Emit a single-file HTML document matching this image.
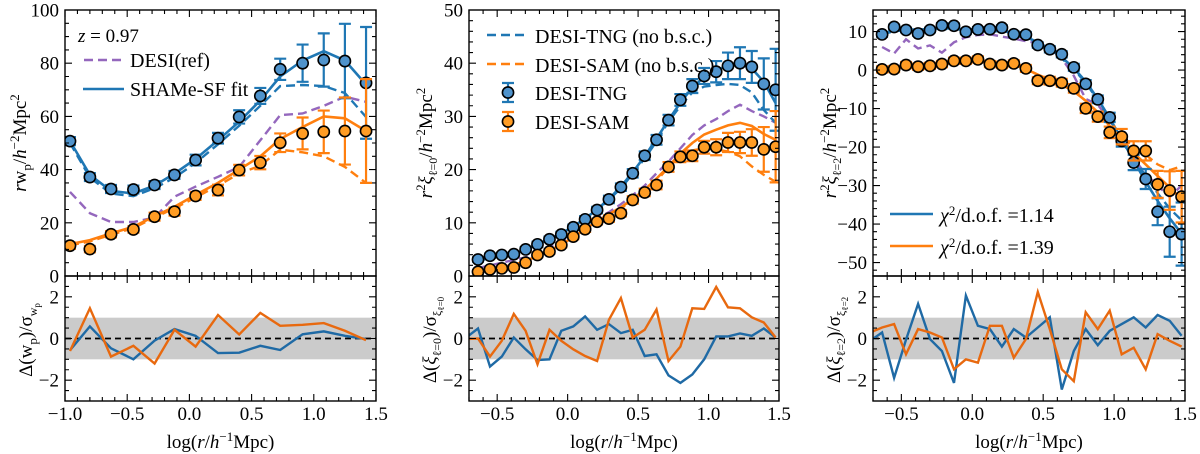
<!DOCTYPE html>
<html><head><meta charset="utf-8">
<style>
html,body{margin:0;padding:0;background:#fff;}
svg{display:block;font-family:"Liberation Serif","DejaVu Serif",serif;}
svg text, svg tspan{font-family:"Liberation Serif","DejaVu Serif",serif;}
</style></head>
<body>
<svg id="fig" width="1200" height="454" viewBox="0 0 1200 454" font-family="Liberation Serif, serif"></svg>
<script>
// ---------- data ----------
const x1 = [-0.96,-0.80,-0.63,-0.45,-0.28,-0.12,0.05,0.23,0.40,0.57,0.73,0.91,1.08,1.25,1.42];
const p1BlueObs = [50.7,37.2,32.7,32.5,34.2,38.0,43.6,51.8,59.8,67.7,77.7,80.0,81.2,80.8,72.6];
const p1BlueErr = [1.5,1.5,1.5,1.5,1.5,1.5,2,2,2.5,3,4,7,10,14,21];
const p1BlueFit = [50.7,38.0,32.0,31.0,34.0,38.5,44.0,51.0,58.0,66.0,75.0,81.0,84.5,81.0,72.0];
const p1BlueNoBsc = [50.0,37.0,31.0,30.0,33.0,37.0,42.5,49.5,56.5,64.0,71.4,71.8,71.4,68.8,59.8];
const p1OrangeObs = [11.4,10.1,15.7,17.5,22.3,24.2,30.1,32.3,39.8,42.6,50.1,53.6,54.2,54.5,54.5];
const p1OrangeErr = [1.2,1.2,1.2,1.2,1.5,1.5,1.5,2,2,2.5,3.5,6,8,12.6,19.5];
const p1OrangeFit = [12.0,13.5,16.0,18.5,22.5,26.0,30.5,35.0,40.0,45.0,51.5,56.0,60.0,59.3,54.5];
const p1OrangeNoBsc = [11.5,13.0,15.5,18.0,22.0,25.5,29.5,34.0,38.5,41.5,47.5,46.5,45.0,41.0,35.0];
const p1Ref = [31.6,23.6,20.3,20.3,22.0,29.8,33.6,37.3,41.0,51.0,60.5,61.1,64.0,67.4,65.5];
const p1ResBlue = [-0.56,0.58,-0.47,-1.0,-0.1,0.45,0.13,-0.7,-0.68,-0.35,-0.55,0.2,0.34,0.13,-0.03];
const p1ResOrange = [-0.6,1.45,-0.87,-0.35,-1.2,0.42,-0.39,1.13,0.19,1.23,0.61,0.66,0.74,0.37,-0.08];

const x2 = [-0.636,-0.551,-0.467,-0.382,-0.298,-0.214,-0.129,-0.045,0.040,0.124,0.209,0.293,0.378,0.462,0.547,0.631,0.716,0.800,0.885,0.969,1.054,1.138,1.223,1.307,1.392,1.476];
const x2Res = [-0.72,-0.636,-0.551,-0.467,-0.382,-0.298,-0.214,-0.129,-0.045,0.040,0.124,0.209,0.293,0.378,0.462,0.547,0.631,0.716,0.800,0.885,0.969,1.054,1.138,1.223,1.307,1.392,1.476];
const p2BlueObs = [3.1,3.8,3.95,4.1,5.0,5.95,6.9,7.8,9.15,10.65,12.4,14.4,16.7,19.3,22.6,25.6,29.3,33.1,35.7,37.6,38.4,39.5,40.0,39.3,36.1,35.0];
const p2BlueErr = [0.4,0.4,0.4,0.4,0.4,0.5,0.5,0.5,0.5,0.6,0.6,0.7,0.7,0.8,0.8,0.9,1.0,1.1,1.3,1.5,2.0,2.5,3.0,3.0,4.8,7.7];
const p2BlueFit = [2.9,3.5,3.9,4.2,5.0,6.0,7.0,8.0,9.3,10.8,12.5,14.5,16.8,19.5,22.5,25.8,29.3,32.6,35.4,37.4,38.6,39.6,39.8,39.0,36.5,32.5];
const p2BlueNoBsc = [2.8,3.4,3.8,4.1,4.9,5.9,6.9,7.9,9.2,10.6,12.3,14.3,16.5,19.2,22.1,25.3,29.0,32.0,34.5,35.6,35.9,36.1,35.9,34.5,31.2,28.8];
const p2OrangeObs = [0.8,1.25,1.43,1.6,2.5,3.95,4.6,5.8,7.4,8.8,10.2,10.8,11.8,14.3,15.7,17.1,20.5,22.4,22.6,24.2,24.2,25.1,25.1,25.1,23.8,24.3];
const p2OrangeErr = [0.3,0.3,0.3,0.3,0.3,0.4,0.4,0.4,0.5,0.5,0.5,0.6,0.6,0.7,0.7,0.8,0.9,1.0,1.0,1.2,1.5,1.8,2.0,2.5,4.2,6.7];
const p2OrangeFit = [1.0,1.4,1.7,2.1,2.8,3.8,4.8,5.9,7.3,8.8,10.3,11.6,12.9,14.5,16.2,18.3,20.6,23.0,25.0,26.6,27.5,28.3,28.8,28.2,26.7,25.6];
const p2OrangeNoBsc = [0.9,1.3,1.6,2.0,2.7,3.7,4.7,5.8,7.2,8.7,10.1,11.4,12.7,14.2,15.9,17.8,20.5,22.5,23.6,24.0,23.8,23.4,22.5,20.6,19.0,17.7];
const p2Ref = [1.5,2.0,2.5,3.0,3.5,4.5,5.5,6.5,7.8,9.3,10.8,12.0,13.5,15.2,17.0,19.3,21.5,24.0,26.5,28.3,29.5,31.0,32.2,31.0,30.0,28.8];
const p2ResBlue = [0.05,0.48,-1.35,-0.87,0.05,-0.52,-1.03,-1.0,0.37,0.58,1.06,0.42,0.69,0.26,0.42,-0.84,-0.76,-1.77,-2.13,-1.73,-1.0,0.1,0.1,0.24,0.13,0.48,0.05];
const p2ResOrange = [-0.03,0.0,-0.87,-0.11,1.18,0.37,-1.24,0.42,-0.11,-0.52,-0.84,-1.08,0.9,1.94,0.05,0.42,1.39,-1.08,-0.39,1.45,1.42,2.47,1.5,1.45,1.02,0.77,0.05];

const p3BlueObs = [9.26,11.2,10.4,9.5,10.4,11.6,11.5,9.95,10.55,10.6,11.0,9.3,9.2,6.5,5.4,4.1,0.7,-3.6,-7.6,-12.3,-18.4,-24.0,-28.3,-36.8,-42.0,-42.6];
const p3BlueErr = [0.6,0.6,0.6,0.6,0.6,0.6,0.6,0.6,0.6,0.6,0.6,0.7,0.7,0.7,0.8,0.8,0.9,1.0,1.0,1.2,1.5,2.0,2.6,3.5,6.5,8.2];
const p3BlueFit = [9.5,10.3,10.5,10.5,10.6,10.8,10.8,10.6,10.5,10.4,10.2,9.6,8.6,7.2,5.5,3.3,0.5,-3.0,-7.5,-12.5,-18.0,-23.5,-29.0,-34.0,-38.5,-42.5];
const p3BlueNoBsc = [9.3,10.1,10.3,10.3,10.4,10.6,10.6,10.4,10.3,10.2,10.0,9.4,8.4,7.0,5.3,3.0,0.2,-3.3,-7.8,-12.8,-18.3,-23.0,-27.5,-32.0,-36.0,-39.0];
const p3OrangeObs = [0.17,0.26,1.3,0.87,1.1,1.56,2.4,2.4,2.77,1.56,1.3,1.73,0.43,-2.77,-2.77,-3.3,-4.76,-9.95,-12.1,-16.2,-17.3,-21.0,-21.0,-29.7,-31.3,-32.9];
const p3OrangeErr = [0.8,0.8,0.8,0.8,0.8,0.8,0.8,0.8,0.8,0.8,0.8,0.8,0.9,0.9,1.0,1.0,1.1,1.2,1.3,1.5,2.0,2.5,2.5,3.5,5.0,6.7];
const p3OrangeFit = [0.3,0.6,0.9,1.1,1.4,1.8,2.2,2.4,2.5,2.3,1.9,1.3,0.3,-1.2,-2.5,-3.8,-5.5,-8.0,-11.0,-14.5,-18.0,-21.5,-24.5,-27.5,-30.5,-33.5];
const p3OrangeNoBsc = [0.3,0.6,0.9,1.1,1.4,1.8,2.2,2.4,2.5,2.3,1.9,1.3,0.3,-1.2,-2.5,-3.8,-5.5,-8.0,-11.0,-14.5,-17.5,-20.0,-22.0,-24.5,-26.0,-25.0];
const p3Ref = [6.0,4.3,8.0,5.6,6.4,4.5,7.2,8.5,9.1,9.3,8.7,8.2,7.5,7.0,5.6,3.0,-1.5,-7.5,-9.0,-13.0,-18.5,-23.0,-27.0,-30.0,-33.0,-30.0];
const p3ResBlue = [-0.11,0.29,-1.89,-0.06,1.66,-0.03,-0.6,-2.13,2.06,0.61,0.45,-0.39,0.45,0.05,0.53,1.02,-2.45,-0.6,0.45,-0.32,0.37,0.69,1.02,0.53,1.13,0.85,0.13];
const p3ResOrange = [0.29,0.53,0.69,-0.76,0.45,0.29,0.05,-1.48,-1.0,-1.16,0.61,0.61,-0.92,-0.03,2.23,0.45,-1.48,-2.05,1.26,0.45,1.34,-0.76,-0.44,-1.48,0.21,-0.11,-0.39];

const xTicks = [-1.0,-0.5,0.0,0.5,1.0,1.5];
const xTickLabels = ['−1.0','−0.5','0.0','0.5','1.0','1.5'];
const yTicks1 = [0,20,40,60,80,100];
const yTicks2 = [0,10,20,30,40,50];
const yTicks3 = [10,0,-10,-20,-30,-40,-50];
const resTicks = [2,0,-2];

// ---------- drawing ----------
const NS = 'http://www.w3.org/2000/svg';
const svg = document.getElementById('fig');
const FONT = '"Liberation Serif", "DejaVu Serif", serif';
const BLUE = '#1f77b4', ORANGE = '#ff7f0e', PURPLE = '#9467bd';
const BLUE_D = '#1f6aa5', ORANGE_D = '#e8690f';
function mk(tag, attrs, parent) {
  const e = document.createElementNS(NS, tag);
  for (const k in attrs) e.setAttribute(k, attrs[k]);
  if (tag === 'text') e.setAttribute('font-family', FONT);
  (parent || svg).appendChild(e);
  return e;
}
const TOP = 10, MID = 276, BOT = 401;
const panels = [
  {px0:65, px1:376, xmin:-1.0, xmax:1.5, ymin:0, ymax:100, yt:yTicks1, ym:5},
  {px0:469, px1:779, xmin:-0.7, xmax:1.5, ymin:0, ymax:50, yt:yTicks2, ym:2},
  {px0:873, px1:1185, xmin:-0.7, xmax:1.5, ymin:-53.5, ymax:15.6, yt:yTicks3, ym:2}
];
function sx(p, v) { return p.px0 + (v - p.xmin) / (p.xmax - p.xmin) * (p.px1 - p.px0); }
function syU(p, v) { return MID - (v - p.ymin) / (p.ymax - p.ymin) * (MID - TOP); }
function syL(v) { return BOT - (v + 3) / 6 * (BOT - MID); }

function clip(p, id, y0, y1) {
  const defs = mk('defs', {});
  const cp = mk('clipPath', {id: id}, defs);
  mk('rect', {x: p.px0, y: y0, width: p.px1 - p.px0, height: y1 - y0}, cp);
}

function line(p, xs, ys, color, dash, width, upper, cid, name) {
  let d = '';
  for (let i = 0; i < xs.length; i++) {
    const X = sx(p, xs[i]), Y = upper ? syU(p, ys[i]) : syL(ys[i]);
    d += (i ? 'L' : 'M') + X.toFixed(1) + ' ' + Y.toFixed(1);
  }
  const el = mk('path', {d: d, fill: 'none', stroke: color, 'stroke-width': width, 'stroke-dasharray': dash || 'none', 'clip-path': 'url(#' + cid + ')', 'stroke-linejoin': 'miter'});
  
  
}

function points(p, xs, ys, es, color, fill, cid, name) {
  const g = mk('g', {'clip-path': 'url(#' + cid + ')'});
  
  
  for (let i = 0; i < xs.length; i++) {
    const X = sx(p, xs[i]), Y0 = syU(p, ys[i] - es[i]), Y1 = syU(p, ys[i] + es[i]);
    const eb = mk('path', {d: 'M' + X + ' ' + Y0 + 'V' + Y1 + 'M' + (X - 6) + ' ' + Y0 + 'H' + (X + 6) + 'M' + (X - 6) + ' ' + Y1 + 'H' + (X + 6), stroke: color, 'stroke-width': 2.2, fill: 'none'}, g);
    
    
  }
  for (let i = 0; i < xs.length; i++) {
    const c = mk('circle', {cx: sx(p, xs[i]), cy: syU(p, ys[i]), r: 5.6, fill: fill, stroke: '#000', 'stroke-width': 1.6}, g);
    
    
  }
}

function frame(p, idx) {
  const band = mk('rect', {x: p.px0, y: syL(1), width: p.px1 - p.px0, height: syL(-1) - syL(1), fill: '#cbcbcb'});
  
  
}
function axes(p, idx) {
  const g = mk('g', {});
  
  
  mk('rect', {x: p.px0, y: TOP, width: p.px1 - p.px0, height: MID - TOP, fill: 'none', stroke: '#000', 'stroke-width': 1.4}, g);
  mk('rect', {x: p.px0, y: MID, width: p.px1 - p.px0, height: BOT - MID, fill: 'none', stroke: '#000', 'stroke-width': 1.4}, g);
  let d = '';
  for (let v = -1.0; v <= 1.5001; v += 0.1) {
    const vv = Math.round(v * 10) / 10;
    if (vv < p.xmin - 1e-6) continue;
    const X = sx(p, vv);
    const major = Math.abs(vv * 2 - Math.round(vv * 2)) < 1e-6;
    const L = major ? 7 : 4;
    d += 'M' + X + ' ' + MID + 'v-' + L + 'M' + X + ' ' + TOP + 'v' + L;
    d += 'M' + X + ' ' + BOT + 'v-' + L + 'M' + X + ' ' + MID + 'v' + L;
  }
  for (let v = Math.ceil(p.ymin / p.ym) * p.ym; v <= p.ymax + 1e-6; v += p.ym) {
    const Y = syU(p, v);
    const major = p.yt.indexOf(Math.round(v)) >= 0;
    const L = major ? 7 : 4;
    d += 'M' + p.px0 + ' ' + Y + 'h' + L + 'M' + p.px1 + ' ' + Y + 'h-' + L;
  }
  for (let v = -3; v <= 3.001; v += 0.5) {
    const Y = syL(v);
    const major = Math.abs(v % 2) < 1e-6;
    const L = major ? 7 : 4;
    d += 'M' + p.px0 + ' ' + Y + 'h' + L + 'M' + p.px1 + ' ' + Y + 'h-' + L;
  }
  mk('path', {d: d, stroke: '#000', 'stroke-width': 1.1, fill: 'none'}, g);
  for (let i = 0; i < xTicks.length; i++) {
    if (xTicks[i] < p.xmin - 1e-6) continue;
    const t = mk('text', {x: sx(p, xTicks[i]), y: 420, 'text-anchor': 'middle', 'font-size': 19}, g);
    t.textContent = xTickLabels[i];
    
    
  }
  for (const v of p.yt) {
    const t = mk('text', {x: p.px0 - 6, y: syU(p, v) + 6.5, 'text-anchor': 'end', 'font-size': 19}, g);
    t.textContent = v < 0 ? '−' + Math.abs(v) : String(v);
    
    
  }
  for (const v of resTicks) {
    const t = mk('text', {x: p.px0 - 6, y: syL(v) + 6.5, 'text-anchor': 'end', 'font-size': 19}, g);
    t.textContent = v < 0 ? '−' + Math.abs(v) : String(v);
    
    
  }
  const xl = mk('text', {x: (p.px0 + p.px1) / 2, y: 448, 'text-anchor': 'middle', 'font-size': 19}, g);
  xl.innerHTML = 'log(<tspan font-style="italic">r</tspan>/<tspan font-style="italic">h</tspan><tspan dy="-7" font-size="13">−1</tspan><tspan dy="7">Mpc)</tspan>';
  
  
}

const sets = [
  {x: x1, xr: x1, bo: p1BlueObs, be: p1BlueErr, bf: p1BlueFit, bn: p1BlueNoBsc, oo: p1OrangeObs, oe: p1OrangeErr, of: p1OrangeFit, on: p1OrangeNoBsc, ref: p1Ref, rb: p1ResBlue, ro: p1ResOrange},
  {x: x2, xr: x2Res, bo: p2BlueObs, be: p2BlueErr, bf: p2BlueFit, bn: p2BlueNoBsc, oo: p2OrangeObs, oe: p2OrangeErr, of: p2OrangeFit, on: p2OrangeNoBsc, ref: p2Ref, rb: p2ResBlue, ro: p2ResOrange},
  {x: x2, xr: x2Res, bo: p3BlueObs, be: p3BlueErr, bf: p3BlueFit, bn: p3BlueNoBsc, oo: p3OrangeObs, oe: p3OrangeErr, of: p3OrangeFit, on: p3OrangeNoBsc, ref: p3Ref, rb: p3ResBlue, ro: p3ResOrange}
];

panels.forEach((p, i) => {
  const s = sets[i];
  const cu = 'cu' + i, cl = 'cl' + i;
  clip(p, cu, TOP, MID);
  clip(p, cl, MID, BOT);
  frame(p, i);
  line(p, [p.xmin, p.xmax], [0, 0], '#000', '6,4', 1.8, false, cl, 'zero-line');
  line(p, s.xr, s.rb, BLUE_D, null, 2.4, false, cl, 'residual-blue');
  line(p, s.xr, s.ro, ORANGE_D, null, 2.4, false, cl, 'residual-orange');
  line(p, s.x, s.ref, PURPLE, '9,5', 2.4, true, cu, 'ref-dashed-line');
  line(p, s.x, s.bn, BLUE, '9,5', 2.4, true, cu, 'blue-no-bsc-line');
  line(p, s.x, s.on, ORANGE, '9,5', 2.4, true, cu, 'orange-no-bsc-line');
  line(p, s.x, s.bf, BLUE, null, 2.6, true, cu, 'blue-fit-line');
  line(p, s.x, s.of, ORANGE, null, 2.6, true, cu, 'orange-fit-line');
  points(p, s.x, s.bo, s.be, BLUE, '#4f93cc', cu, 'blue-data-points');
  points(p, s.x, s.oo, s.oe, ORANGE, '#ff9c24', cu, 'orange-data-points');
  axes(p, i);
});
</script>
<script>
(function(){
  const NS = 'http://www.w3.org/2000/svg';
  const svg = document.getElementById('fig');
  const FONT = '"Liberation Serif", "DejaVu Serif", serif';
  function t(x, y, html, name) {
    const e = document.createElementNS(NS, 'text');
    e.setAttribute('transform', 'translate(' + x + ',' + y + ') rotate(-90)');
    e.setAttribute('text-anchor', 'middle');
    e.setAttribute('font-size', '19');
    e.setAttribute('font-family', FONT);
    e.innerHTML = html;
    svg.appendChild(e);
    
    
  }
  const unit = '/<tspan font-style="italic">h</tspan><tspan dy="-7" font-size="13">−2</tspan><tspan dy="7">Mpc</tspan><tspan dy="-7" font-size="13">2</tspan>';
  t(26, 143, '<tspan font-style="italic">r</tspan>w<tspan dy="5" font-size="13">p</tspan><tspan dy="-5">/</tspan><tspan font-style="italic">h</tspan><tspan dy="-7" font-size="13">−2</tspan><tspan dy="7">Mpc</tspan><tspan dy="-7" font-size="13">2</tspan>', 'y-axis-title-wp');
  t(432, 143, '<tspan font-style="italic">r</tspan><tspan dy="-7" font-size="13">2</tspan><tspan dy="7" font-style="italic">ξ</tspan><tspan dy="5" font-size="12">ℓ=0</tspan><tspan dy="-5">/</tspan><tspan font-style="italic">h</tspan><tspan dy="-7" font-size="13">−2</tspan><tspan dy="7">Mpc</tspan><tspan dy="-7" font-size="13">2</tspan>', 'y-axis-title-xi0');
  t(836, 143, '<tspan font-style="italic">r</tspan><tspan dy="-7" font-size="13">2</tspan><tspan dy="7" font-style="italic">ξ</tspan><tspan dy="5" font-size="12">ℓ=2</tspan><tspan dy="-5">/</tspan><tspan font-style="italic">h</tspan><tspan dy="-7" font-size="13">−2</tspan><tspan dy="7">Mpc</tspan><tspan dy="-7" font-size="13">2</tspan>', 'y-axis-title-xi2');
  t(32, 340, 'Δ(w<tspan dy="5" font-size="13">p</tspan><tspan dy="-5">)/σ</tspan><tspan dy="5" font-size="12">w</tspan><tspan dy="3" font-size="9">p</tspan>', 'residual-title-wp');
  t(436, 340, 'Δ(<tspan font-style="italic">ξ</tspan><tspan dy="5" font-size="12">ℓ=0</tspan><tspan dy="-5">)/σ</tspan><tspan dy="5" font-size="12">ξ</tspan><tspan dy="3" font-size="9">ℓ=0</tspan>', 'residual-title-xi0');
  t(840, 340, 'Δ(<tspan font-style="italic">ξ</tspan><tspan dy="5" font-size="12">ℓ=2</tspan><tspan dy="-5">)/σ</tspan><tspan dy="5" font-size="12">ξ</tspan><tspan dy="3" font-size="9">ℓ=2</tspan>', 'residual-title-xi2');

  function L(html, name) {
    const g = document.createElementNS(NS, 'g');
    g.setAttribute('font-family', FONT);
    g.innerHTML = html;
    svg.appendChild(g);
    
    
  }
  L('<text x="78" y="42" font-size="19"><tspan font-style="italic">z</tspan> = 0.97</text>' +
    '<line x1="84" y1="60" x2="123" y2="60" stroke="#9467bd" stroke-width="2.4" stroke-dasharray="9,5"/>' +
    '<text x="130" y="67" font-size="20">DESI(ref)</text>' +
    '<line x1="83" y1="89" x2="124" y2="89" stroke="#1f77b4" stroke-width="2.6"/>' +
    '<text x="130" y="96" font-size="20">SHAMe-SF fit</text>', 'legend-panel-1');
  L('<line x1="487" y1="35" x2="528" y2="35" stroke="#1f77b4" stroke-width="2.4" stroke-dasharray="9,5"/>' +
    '<text x="535" y="43" font-size="20">DESI-TNG (no b.s.c.)</text>' +
    '<line x1="487" y1="64" x2="528" y2="64" stroke="#ff7f0e" stroke-width="2.4" stroke-dasharray="9,5"/>' +
    '<text x="535" y="72" font-size="20">DESI-SAM (no b.s.c.)</text>' +
    '<path d="M508 83V102M502 83H514M502 102H514" stroke="#1f77b4" stroke-width="2.2"/>' +
    '<circle cx="508" cy="92.5" r="5.6" fill="#4f93cc" stroke="#000" stroke-width="1.6"/>' +
    '<text x="535" y="100" font-size="20">DESI-TNG</text>' +
    '<path d="M508 112V131M502 112H514M502 131H514" stroke="#ff7f0e" stroke-width="2.2"/>' +
    '<circle cx="508" cy="121.5" r="5.6" fill="#ff9c24" stroke="#000" stroke-width="1.6"/>' +
    '<text x="535" y="129" font-size="20">DESI-SAM</text>', 'legend-panel-2');
  L('<line x1="890" y1="214" x2="933" y2="214" stroke="#1f77b4" stroke-width="2.6"/>' +
    '<text x="940" y="222" font-size="20"><tspan font-style="italic">χ</tspan><tspan dy="-7" font-size="13">2</tspan><tspan dy="7">/d.o.f. =1.14</tspan></text>' +
    '<line x1="890" y1="246" x2="933" y2="246" stroke="#ff7f0e" stroke-width="2.6"/>' +
    '<text x="940" y="254" font-size="20"><tspan font-style="italic">χ</tspan><tspan dy="-7" font-size="13">2</tspan><tspan dy="7">/d.o.f. =1.39</tspan></text>', 'legend-panel-3');
})();
</script>
</body></html>
